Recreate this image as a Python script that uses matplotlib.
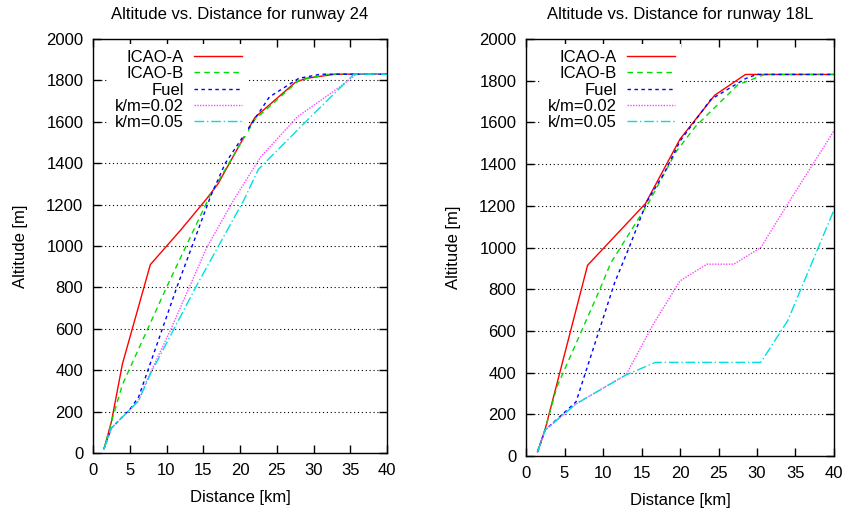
import numpy as np
import matplotlib
matplotlib.use("Agg")
import matplotlib.pyplot as plt

plt.rcParams["font.family"] = ["Liberation Sans", "DejaVu Sans"]

# runway 24
r24_icao_a_x = [1.5, 2.5, 4, 7.8, 12, 15.5, 17, 22, 27.5, 29, 33, 40]
r24_icao_a_y = [20, 150, 430, 910, 1080, 1230, 1300, 1620, 1790, 1810, 1830, 1830]
r24_icao_b_x = [1.5, 2.5, 4, 10, 16, 22, 28, 32, 40]
r24_icao_b_y = [20, 150, 330, 800, 1250, 1610, 1800, 1830, 1830]
r24_fuel_x = [1.5, 2.5, 5, 6.2, 11.5, 16, 18, 24, 28, 31, 40]
r24_fuel_y = [20, 120, 210, 270, 810, 1240, 1400, 1720, 1810, 1830, 1830]
r24_k002_x = [1.5, 2.5, 6.2, 7.3, 10.5, 15.5, 19.1, 22.8, 27.8, 33.6, 35.9, 40]
r24_k002_y = [20, 120, 252, 349, 591, 994, 1220, 1430, 1624, 1769, 1832, 1832]
r24_k005_x = [1.5, 2.5, 6.2, 7.8, 14.1, 20.5, 22.5, 29.5, 35.5, 40]
r24_k005_y = [20, 120, 252, 381, 809, 1220, 1370, 1620, 1830, 1830]

# runway 18L
r18_icao_a_x = [1.5, 2.5, 8, 15.5, 20, 24.5, 28.5, 40]
r18_icao_a_y = [20, 130, 915, 1210, 1520, 1730, 1830, 1830]
r18_icao_b_x = [1.5, 2.5, 4, 9.6, 11, 16, 19.5, 22, 27.5, 31, 40]
r18_icao_b_y = [20, 130, 330, 800, 925, 1220, 1460, 1580, 1780, 1830, 1830]
r18_fuel_x = [1.5, 2.5, 6.5, 11.5, 13.5, 15.7, 18, 20, 24, 28.5, 30, 40]
r18_fuel_y = [20, 125, 260, 830, 1010, 1220, 1360, 1510, 1710, 1810, 1830, 1830]
r18_k002_x = [1.5, 2.5, 6.5, 13, 16.5, 20, 23.5, 27, 30.5, 33.5, 40]
r18_k002_y = [20, 125, 250, 390, 630, 840, 920, 920, 1000, 1180, 1560]
r18_k005_x = [1.5, 2.5, 6.5, 13, 16.8, 30.5, 34, 40]
r18_k005_y = [20, 125, 250, 389, 449, 449, 650, 1180]

labels = ["ICAO-A", "ICAO-B", "Fuel", "k/m=0.02", "k/m=0.05"]
colors = ["#ff0000", "#00dd00", "#0000ff", "#ff44ff", "#00e0e0"]
styles = ["-", (0, (4, 3)), (0, (2.5, 2.5)), (0, (1, 1)), (0, (7, 2, 1, 2))]

panels = [
    ("Altitude vs. Distance for runway 24",
     [(r24_icao_a_x, r24_icao_a_y), (r24_icao_b_x, r24_icao_b_y), (r24_fuel_x, r24_fuel_y),
      (r24_k002_x, r24_k002_y), (r24_k005_x, r24_k005_y)],
     [93 / 848, 56 / 509, 294 / 848, 414 / 509]),
    ("Altitude vs. Distance for runway 18L",
     [(r18_icao_a_x, r18_icao_a_y), (r18_icao_b_x, r18_icao_b_y), (r18_fuel_x, r18_fuel_y),
      (r18_k002_x, r18_k002_y), (r18_k005_x, r18_k005_y)],
     [526 / 848, 53 / 509, 308 / 848, 417 / 509]),
]

fig = plt.figure(figsize=(8.48, 5.09), dpi=100)
fs = 12

for title, series, rect in panels:
    ax = fig.add_axes(rect)
    for (x, y), lab, c, ls in zip(series, labels, colors, styles):
        ax.plot(x, y, color=c, linestyle=ls, lw=1.0, label=lab)
    ax.set_xlim(0, 40)
    ax.set_ylim(0, 2000)
    ax.set_xticks(np.arange(0, 41, 5))
    ax.set_yticks(np.arange(0, 2001, 200))
    ax.yaxis.grid(True, color="black", linestyle=(0, (1, 2.5)), lw=0.8)
    ax.set_axisbelow(True)
    ax.tick_params(direction="in", length=6, width=1, top=True, right=True,
                   labelsize=fs, pad=7)
    for s in ax.spines.values():
        s.set_linewidth(1.0)
    ax.set_title(title, fontsize=fs, pad=14.5)
    ax.set_xlabel("Distance [km]", fontsize=fs, labelpad=9)
    ax.set_ylabel("Altitude [m]", fontsize=fs, labelpad=13)
    # gnuplot-like key: right-justified labels, opaque box without frame
    x0 = 16 / (rect[2] * 848)
    y0 = 1 - 5 / (rect[3] * 509)
    leg = ax.legend(loc="upper left", markerfirst=False, fontsize=fs, frameon=True,
                    fancybox=False, edgecolor="none", framealpha=1.0,
                    labelspacing=0.08, handlelength=2.9, handletextpad=0.6,
                    borderpad=0.35, borderaxespad=0.0, bbox_to_anchor=(x0, y0))
    leg.set_zorder(5)

fig.savefig("out.png", dpi=100)
